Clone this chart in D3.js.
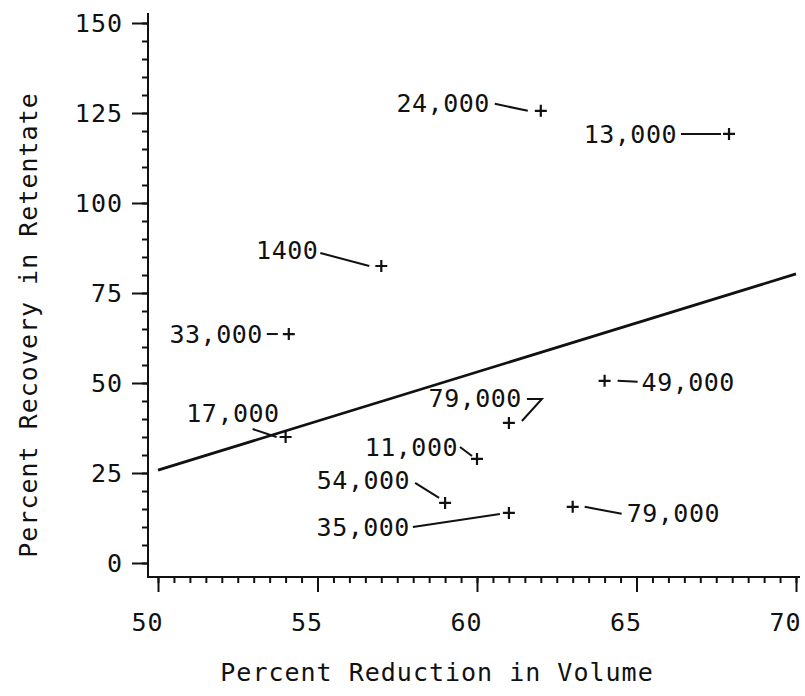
<!DOCTYPE html>
<html>
<head>
<meta charset="utf-8">
<script src="https://cdn.jsdelivr.net/npm/d3@7"></script>
<style>
  body { margin: 0; background: #fff; }
  text { font-family: "DejaVu Sans Mono", monospace; fill: #111; }
</style>
</head>
<body>
<div class="canvas"></div>
<script>
// Data
const reduction = [62.0, 67.9, 57.0, 54.1, 54.0, 61.0, 60.0, 59.0, 61.0, 64.0, 63.0]
const recovery  = [125.6, 119.2, 82.5, 63.6, 35.0, 38.9, 28.9, 16.7, 13.9, 50.6, 15.6]
const labels    = ['24,000', '13,000', '1400', '33,000', '17,000', '79,000',
                   '11,000', '54,000', '35,000', '49,000', '79,000']
// fitted line endpoints
const fitX = [50, 70]
const fitY = [25.8, 80.3]
const xTicks = [50, 55, 60, 65, 70]
const yTicks = [0, 25, 50, 75, 100, 125, 150]

// Label placement (pixel offsets from the point): label pos, anchor, leader polyline
const labelLayout = [
  {dx: -51, dy: -8,  anchor: 'end',   leader: [[-46, -7], [-13, 0]]},
  {dx: -52, dy: 0,   anchor: 'end',   leader: [[-48, 0], [-8, 0]]},
  {dx: -63, dy: -16, anchor: 'end',   leader: [[-61, -13], [-12, 0]]},
  {dx: -26, dy: 0,   anchor: 'end',   leader: [[-22, 0], [-11, 0]]},
  {dx: -6,  dy: -24, anchor: 'end',   leader: [[-33, -8], [-9, 0]]},
  {dx: 13,  dy: -25, anchor: 'end',   leader: [[18, -24], [33, -24], [13, -2]]},
  {dx: -19, dy: -12, anchor: 'end',   leader: [[-17, -12], [-5, -3]]},
  {dx: -35, dy: -23, anchor: 'end',   leader: [[-30, -20], [-6, -5]]},
  {dx: -99, dy: 14,  anchor: 'end',   leader: [[-96, 14], [-9, 1]]},
  {dx: 37,  dy: 1,   anchor: 'start', leader: [[13, 0], [33, 1]]},
  {dx: 54,  dy: 6,   anchor: 'start', leader: [[12, 0], [49, 7]]}
]

const width = 805
const height = 696
const fontSize = 25

const svg = d3.select('.canvas')
  .append('svg')
    .attr('width', width)
    .attr('height', height)

// Scales
const x = d3.scaleLinear().domain([50, 70]).range([158, 796])
const y = d3.scaleLinear().domain([0, 150]).range([563, 23])

const axisOriginX = 148
const axisOriginY = 577

// Axis lines (the y axis stops at its own origin, x axis starts a little left of 50)
svg.append('line')
  .attr('x1', axisOriginX).attr('x2', axisOriginX)
  .attr('y1', 13).attr('y2', axisOriginY)
  .attr('stroke', '#111').attr('stroke-width', 2)
svg.append('line')
  .attr('x1', axisOriginX - 1).attr('x2', 800)
  .attr('y1', axisOriginY).attr('y2', axisOriginY)
  .attr('stroke', '#111').attr('stroke-width', 2)

// Y axis: minor ticks every 5, majors every 25
svg.append('g')
  .attr('transform', `translate(${axisOriginX},0)`)
  .call(d3.axisLeft(y).tickValues(d3.range(0, 151, 5)).tickSize(6).tickFormat(''))
const yAxisGroup = svg.append('g')
  .attr('transform', `translate(${axisOriginX},0)`)
  .call(d3.axisLeft(y).tickValues(yTicks).tickSize(16).tickPadding(9))

// X axis: minor ticks every 0.5, majors every 5
svg.append('g')
  .attr('transform', `translate(0,${axisOriginY})`)
  .call(d3.axisBottom(x).tickValues(d3.range(50, 70.01, 0.5)).tickSize(6).tickFormat(''))
const xAxisGroup = svg.append('g')
  .attr('transform', `translate(0,${axisOriginY})`)
  .call(d3.axisBottom(x).tickValues(xTicks).tickSize(15).tickPadding(21))

svg.selectAll('.domain').remove()
svg.selectAll('.tick line').attr('stroke', '#111').attr('stroke-width', 2)
svg.selectAll('.tick text')
  .attr('font-family', '"DejaVu Sans Mono", monospace')
  .attr('font-size', fontSize)
  .attr('letter-spacing', 1)
  .attr('fill', '#111')
xAxisGroup.selectAll('text').attr('dx', -11)

// Fitted line
svg.append('line')
  .attr('x1', x(fitX[0])).attr('y1', y(fitY[0]))
  .attr('x2', x(fitX[1])).attr('y2', y(fitY[1]))
  .attr('stroke', '#111').attr('stroke-width', 2.8)

// Points
const points = reduction.map((v, i) => ({x: v, y: recovery[i], label: labels[i], lay: labelLayout[i]}))

const marks = svg.selectAll('g.pt')
  .data(points)
  .enter()
  .append('g')
    .attr('class', 'pt')
    .attr('transform', d => `translate(${x(d.x)},${y(d.y)})`)

marks.append('path')
  .attr('d', 'M-6,0H6M0,-6V6')
  .attr('stroke', '#111').attr('stroke-width', 2.2).attr('fill', 'none')

marks.append('path')
  .attr('d', d => d3.line()(d.lay.leader))
  .attr('stroke', '#111').attr('stroke-width', 2).attr('fill', 'none')

marks.append('text')
  .attr('x', d => d.lay.dx)
  .attr('y', d => d.lay.dy)
  .attr('dy', '0.36em')
  .attr('text-anchor', d => d.lay.anchor)
  .attr('font-size', fontSize)
  .attr('letter-spacing', 0.5)
  .text(d => d.label)

// Axis titles
svg.append('text')
  .attr('x', 437).attr('y', 672)
  .attr('dy', '0.36em')
  .attr('text-anchor', 'middle')
  .attr('font-size', fontSize)
  .attr('letter-spacing', 1)
  .text('Percent Reduction in Volume')

svg.append('text')
  .attr('transform', 'translate(28,325) rotate(-90)')
  .attr('dy', '0.36em')
  .attr('text-anchor', 'middle')
  .attr('font-size', fontSize)
  .attr('letter-spacing', 1)
  .text('Percent Recovery in Retentate')
</script>
</body>
</html>
